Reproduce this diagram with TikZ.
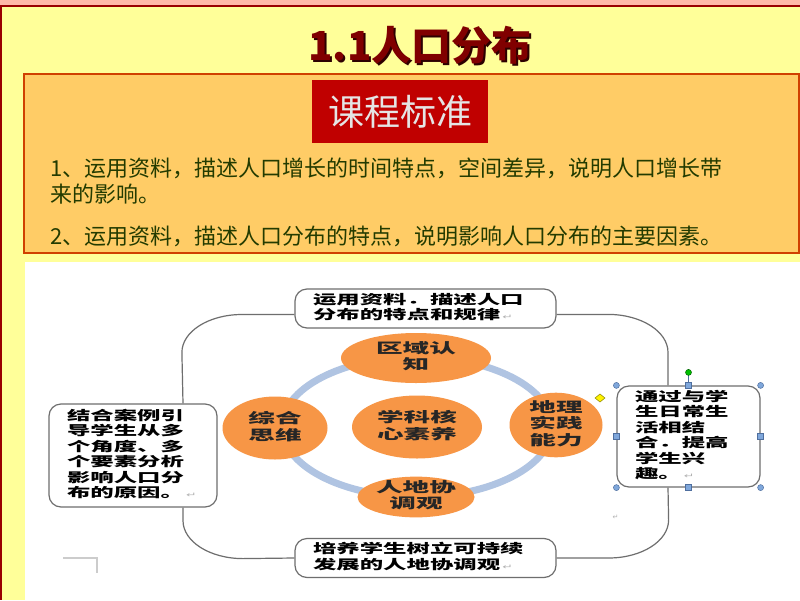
\documentclass[tikz,border=0pt]{standalone}
\usepackage{fontspec}
\usepackage{graphicx}
\usetikzlibrary{shapes.geometric}
\setlength{\parindent}{0pt}
\newfontfamily\cjk{Noto Sans CJK SC}
\newfontfamily\arrowfont{DejaVu Sans}
\definecolor{pagebg}{HTML}{FFFF99}
\definecolor{stripe}{HTML}{FFB8A8}
\definecolor{frame}{HTML}{990000}
\definecolor{stdfill}{HTML}{FFCC66}
\definecolor{stdline}{HTML}{D04000}
\definecolor{stdred}{HTML}{C00000}
\definecolor{titlered}{HTML}{800000}
\definecolor{bodygreen}{HTML}{233B00}
\definecolor{corefill}{HTML}{F79646}
\definecolor{ring}{HTML}{B0C4E2}
\definecolor{boxline}{HTML}{6E6E6E}
\definecolor{handlefill}{HTML}{7FA7DB}
\definecolor{handleline}{HTML}{4F6F9F}
\tikzstyle{core}=[ellipse, fill=corefill, inner sep=-2pt, text=black!85,
  font=\cjk\bfseries\fontsize{14}{15}\selectfont]
\tikzstyle{planbox}=[draw=boxline, line width=1.2pt, rounded corners=12pt, fill=white,
  inner xsep=18pt, inner ysep=0pt, align=left,
  font=\cjk\bfseries\fontsize{13}{14.5}\selectfont]
\tikzstyle{stdtext}=[anchor=west, inner sep=0pt, text=bodygreen,
  font=\cjk\fontsize{22}{26}\selectfont]
\newcommand{\core}{\node[core]}
\newcommand{\planbox}{\node[planbox]}
\newcommand{\wideleft}[2]{\scalebox{#1}[1]{\begin{tabular}{@{}l@{}}#2\end{tabular}}}
\newcommand{\widemid}[2]{\scalebox{#1}[1]{\begin{tabular}{@{}c@{}}#2\end{tabular}}}
\newcommand{\ret}{{\arrowfont\mdseries\fontsize{7}{7}\selectfont\color{gray!60}\,↵}}
\newcommand{\shadowed}[1]{\rlap{\kern2pt\raisebox{-2pt}{\color{black!65!titlered}#1}}#1}

\begin{document}
\begin{tikzpicture}[x=1pt, y=-1pt,
	loopline/.style={draw=boxline, line width=1.2pt},
	handle/.style={fill=handlefill, draw=handleline, line width=0.5pt}
	]
	\useasboundingbox (0,0) rectangle (800,600);
	% slide background
	\fill[pagebg] (0,0) rectangle (800,600);
	\fill[stripe] (0,0) rectangle (800,5);
	\draw[frame, line width=2pt] (0,6) -- (800,6);
	\draw[frame, line width=2pt] (1,6) -- (1,600);
	\node (title) [font=\cjk\bfseries\fontsize{40}{40}\selectfont, text=titlered] at (420,46) {\shadowed{1.1人口分布}};
	% curriculum standard
	\draw[stdline, line width=2pt, fill=stdfill] (24,74) rectangle (799,253);
	\node (std) [fill=stdred, minimum width=176, minimum height=63, inner sep=0pt, text=black!10,
		font=\cjk\fontsize{36}{36}\selectfont] at (400,111.5) {课程标准};
	\node (std1) [stdtext] at (50,168) {1、运用资料，描述人口增长的时间特点，空间差异，说明人口增长带};
	\node (std2) [stdtext] at (50,194) {来的影响。};
	\node (std3) [stdtext] at (50,236) {2、运用资料，描述人口分布的特点，说明影响人口分布的主要因素。};
	\fill[white] (25,262) rectangle (800,600);
	% core literacy
	\draw[ring, line width=7pt] (417,427) ellipse [x radius=135, y radius=70];
	\core (region) at (416,358) [minimum width=150, minimum height=50] {\widemid{1.9}{区域认\\知}};
	\core (thinking) at (275,428) [minimum width=105, minimum height=63] {\widemid{1.9}{综合\\思维}};
	\core (centre) at (417,427) [minimum width=130, minimum height=63] {\widemid{1.9}{学科核\\心素养}};
	\core (practice) at (556,425) [minimum width=93, minimum height=56] {\widemid{1.9}{地理\\实践\\能力}};
	\core (harmony) at (416,497) [minimum width=117, minimum height=40] {\widemid{1.9}{人地协\\调观}};
	% goals
	\planbox (topgoal) at (425.5,308.5) [text width=225, minimum height=39]
		{\wideleft{1.8}{运用资料．描述人口\\分布的特点和规律\ret}};
	\planbox (leftgoal) at (133,455.5) [text width=132, minimum height=103]
		{\wideleft{1.8}{结合案例引\\导学生从多\\个角度、多\\个要素分析\\影响人口分\\布的原因。\ret}};
	\planbox (rightgoal) at (688.5,436.5) [text width=107, minimum height=101]
		{\wideleft{1.8}{通过与学\\生日常生\\活相结\\合．提高\\学生兴\\趣。\ret}};
	\planbox (bottomgoal) at (425.5,558) [text width=225, minimum height=39]
		{\wideleft{1.8}{培养学生树立可持续\\发展的人地协调观\ret}};
	\coordinate (lx) at (183,0);
	\coordinate (rx) at (668,0);
	\draw[loopline] ([yshift=-6pt]topgoal.west) -- ++(-52.5,0)
		arc[start angle=-90, end angle=-180, x radius=60, y radius=38] -- (leftgoal.north -| lx);
	\draw[loopline] (leftgoal.south -| lx) -- ++(0,13)
		arc[start angle=180, end angle=90, x radius=60, y radius=38] -- (bottomgoal.west);
	\draw[loopline] (bottomgoal.east) -- ++(52,0)
		arc[start angle=90, end angle=0, x radius=60, y radius=38] -- (rightgoal.south -| rx);
	\draw[loopline] (rightgoal.north -| rx) -- ++(0,-33)
		arc[start angle=0, end angle=-90, x radius=60, y radius=38] -- ([yshift=-6pt]topgoal.east);
	% selection handles
	\draw[handleline, line width=0.6pt] (rightgoal.north) -- ++(0,-13);
	\filldraw[fill=green!75!black, draw=green!40!black, line width=0.5pt] ([yshift=13pt]rightgoal.north) circle (3);
	\foreach \a in {north west, north east, south west, south east}
		\filldraw[handle] (rightgoal.\a) circle (3);
	\foreach \a in {north, south, west, east}
		\filldraw[handle] ([shift={(-3pt,-3pt)}]rightgoal.\a) rectangle ++(6,-6);
	\filldraw[fill=yellow, draw=olive, line width=0.5pt] (600,394) -- (605,398) -- (600,402) -- (595,398) -- cycle;
	% stray marks
	\node (mark) [inner sep=0pt] at (615,517) {\ret};
	\draw[gray!40, line width=1.5pt] (63,558) -- (97,558) -- (97,573);
\end{tikzpicture}
\end{document}
